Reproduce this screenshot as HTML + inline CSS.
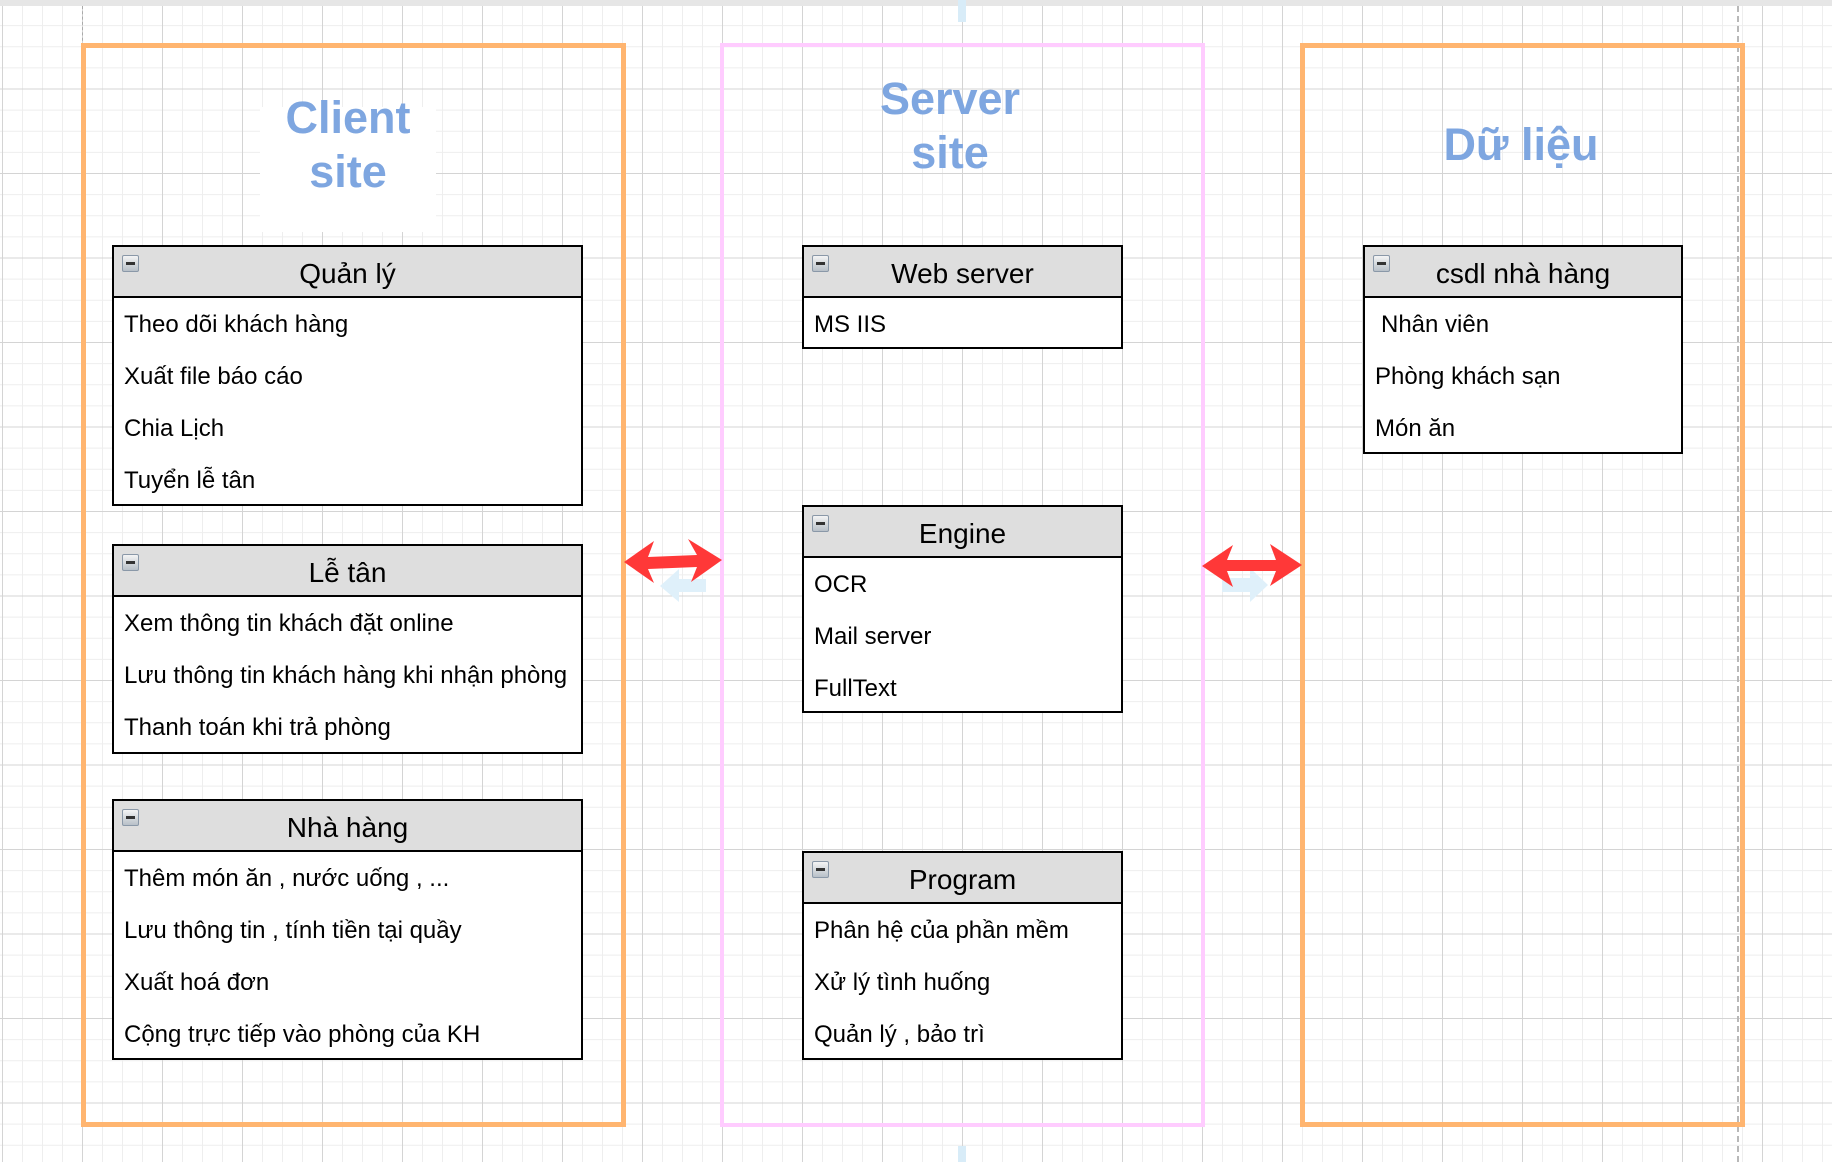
<!DOCTYPE html>
<html><head><meta charset="utf-8"><style>
html,body{margin:0;padding:0;}
body{width:1832px;height:1162px;position:relative;overflow:hidden;background-color:#fff;
background-image:
linear-gradient(to right,#d4d4d4 1px,transparent 1px),
linear-gradient(to bottom,#d4d4d4 1px,transparent 1px),
linear-gradient(to right,#eeeeee 1px,transparent 1px),
linear-gradient(to bottom,#eeeeee 1px,transparent 1px);
background-size:80px 84.5px,80px 84.5px,20px 21.125px,20px 21.125px;
background-position:2px 4px,2px 4px,2px 4px,2px 4px;
font-family:"Liberation Sans",Arial,sans-serif;}
.box{position:absolute;box-sizing:border-box;}
.title{position:absolute;color:#7ea6e0;font-weight:bold;font-size:45px;line-height:54px;text-align:center;}
.tbl{position:absolute;box-sizing:border-box;border:2px solid #000;background:#fff;}
.hd{height:51px;background:#dedede;border-bottom:2px solid #000;box-sizing:border-box;position:relative;text-align:center;font-size:28px;line-height:53px;color:#000;}
.hd i{position:absolute;left:8px;top:8px;width:17px;height:17px;box-sizing:border-box;border:1px solid #8a98a8;border-radius:2px;background:linear-gradient(#f4f4f4,#b8c0c8);}
.hd i:after{content:"";position:absolute;left:3px;top:6px;width:9px;height:3px;background:#333;}
.row{height:52px;line-height:54px;font-size:24px;padding-left:10px;color:#000;white-space:nowrap;}
</style></head><body>
<div style="position:absolute;left:0;top:0;width:1832px;height:6px;background:#e6e6e6"></div>
<div style="position:absolute;left:82px;top:6px;height:40px;border-left:1px dashed #aaa"></div>
<div style="position:absolute;left:1737px;top:6px;height:1156px;border-left:2px dashed #b8b8b8"></div>
<div style="position:absolute;left:958px;top:0;width:8px;height:22px;background:#d8ecf8"></div>
<div style="position:absolute;left:958px;top:1146px;width:8px;height:16px;background:#d8ecf8"></div>

<div class="box" style="left:81px;top:43px;width:545px;height:1084px;border:5px solid #ffb570"></div>
<div class="box" style="left:720px;top:43px;width:485px;height:1084px;border:4px solid #ffccff"></div>
<div class="box" style="left:1300px;top:43px;width:445px;height:1084px;border:5px solid #ffb570"></div>

<div style="position:absolute;left:260px;top:107px;width:176px;height:125px;background:#fff"></div>
<div class="title" style="left:198px;top:91px;width:300px;">Client<br>site</div>
<div class="title" style="left:800px;top:72px;width:300px;">Server<br>site</div>
<div class="title" style="left:1371px;top:118px;width:300px;">Dữ liệu</div>

<div class="tbl" style="left:112px;top:245px;width:471px;height:261px;">
<div class="hd"><i></i>Quản lý</div>
<div class="row">Theo dõi khách hàng</div><div class="row">Xuất file báo cáo</div><div class="row">Chia Lịch</div><div class="row">Tuyển lễ tân</div></div>

<div class="tbl" style="left:112px;top:544px;width:471px;height:210px;">
<div class="hd"><i></i>Lễ tân</div>
<div class="row">Xem thông tin khách đặt online</div><div class="row">Lưu thông tin khách hàng khi nhận phòng</div><div class="row">Thanh toán khi trả phòng</div></div>

<div class="tbl" style="left:112px;top:799px;width:471px;height:261px;">
<div class="hd"><i></i>Nhà hàng</div>
<div class="row">Thêm món ăn , nước uống , ...</div><div class="row">Lưu thông tin , tính tiền tại quầy</div><div class="row">Xuất hoá đơn</div><div class="row">Cộng trực tiếp vào phòng của KH</div></div>

<div class="tbl" style="left:802px;top:245px;width:321px;height:104px;">
<div class="hd"><i></i>Web server</div>
<div class="row">MS IIS</div></div>

<div class="tbl" style="left:802px;top:505px;width:321px;height:208px;">
<div class="hd"><i></i>Engine</div>
<div class="row">OCR</div><div class="row">Mail server</div><div class="row">FullText</div></div>

<div class="tbl" style="left:802px;top:851px;width:321px;height:209px;">
<div class="hd"><i></i>Program</div>
<div class="row">Phân hệ của phần mềm</div><div class="row">Xử lý tình huống</div><div class="row">Quản lý , bảo trì</div></div>

<div class="tbl" style="left:1363px;top:245px;width:320px;height:209px;">
<div class="hd"><i></i>csdl nhà hàng</div>
<div class="row" style="padding-left:16px">Nhân viên</div><div class="row">Phòng khách sạn</div><div class="row">Món ăn</div></div>

<svg width="1832" height="1162" style="position:absolute;left:0;top:0">
<polygon points="660,580 687,580 687,570 706,586 687,603 687,593 660,593" fill="#dff0fa" transform="rotate(180 683 586)"/>
<polygon points="1222,578 1250,578 1250,568 1268,585 1250,602 1250,592 1222,592" fill="#dff0fa"/>
<polygon points="624,562 654,541 648,557 697,555 688,539 722,560 691,582 697,567 648,569 654,583" fill="#ff3838"/>
<polygon points="1202,566 1233,545 1227,560 1276,560 1270,544 1302,565 1270,586 1276,571 1227,571 1233,587" fill="#ff3838"/>
</svg>
</body></html>
